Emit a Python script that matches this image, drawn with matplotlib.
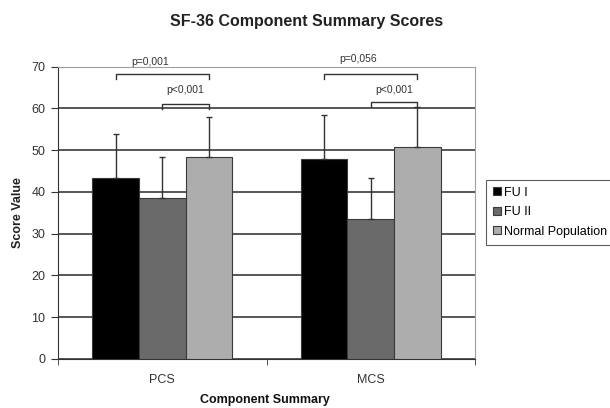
import numpy as np
import matplotlib.pyplot as plt

plt.rcParams['font.family'] = ['Liberation Sans', 'DejaVu Sans']

categorias = ['PCS', 'MCS']
grupos = ['FU I', 'FU II', 'Normal Population']
medias = {
    'FU I': [43.3, 47.8],
    'FU II': [38.5, 33.5],
    'Normal Population': [48.4, 50.8],
}
desvios = {
    'FU I': [10.5, 10.7],
    'FU II': [9.9, 9.8],
    'Normal Population': [9.6, 9.5],
}
cores = ['#000000', '#6a6a6a', '#adadad']

# comparacoes: (categoria, grupo a, grupo b, altura do colchete, altura do texto, texto)
comparacoes = [
    (0, 0, 2, 68.2, 71.1, 'p=0,001'),
    (0, 1, 2, 61.0, 64.4, 'p<0,001'),
    (1, 0, 2, 68.2, 71.9, 'p=0,056'),
    (1, 1, 2, 61.4, 64.4, 'p<0,001'),
]

fig = plt.figure(figsize=(6.1, 4.08), dpi=100)
ax = fig.add_axes([0.0951, 0.1201, 0.6836, 0.7169])

x = np.arange(len(categorias))
largura = 0.2233
for i, g in enumerate(grupos):
    pos = x + (i - 1) * largura
    ax.bar(pos, medias[g], largura, color=cores[i], edgecolor='#3a3a3a',
           linewidth=0.8, label=g, zorder=3)
    ax.errorbar(pos, medias[g], yerr=[np.zeros(2), desvios[g]], fmt='none',
                ecolor='#333333', elinewidth=1, capsize=2.5, capthick=1, zorder=4)

ax.set_ylim(0, 70)
ax.set_xlim(-0.5, 1.5)
ax.set_yticks(range(0, 71, 10))
ax.yaxis.grid(True, color='#2a2a2a', linewidth=1.1, zorder=0)
ax.set_axisbelow(True)

ax.set_xticks(x)
ax.set_xticklabels(categorias, fontsize=9, color='#333333')
ax.set_xticks([-0.5, 0.5, 1.5], minor=True)
ax.tick_params(axis='x', which='major', length=0, pad=11)
ax.tick_params(axis='x', which='minor', length=4, color='#333333', direction='out')
ax.tick_params(axis='y', length=5, color='#333333', labelsize=9, labelcolor='#333333', pad=4)

for lado in ['top', 'right']:
    ax.spines[lado].set_color('#a0a0a0')
for lado in ['left', 'bottom']:
    ax.spines[lado].set_color('#333333')

for cat, a, b, h, ht, texto in comparacoes:
    xa = cat + (a - 1) * largura
    xb = cat + (b - 1) * largura
    ax.plot([xa, xa, xb, xb], [h - 1.1, h, h, h - 1.1], color='#333333',
            linewidth=1, clip_on=False, zorder=5)
    ax.text((xa + xb) / 2 - 0.06 * (a == 0), ht, texto, ha='center', va='center',
            fontsize=7.5, color='#333333', clip_on=False)

fig.text(0.503, 0.947, 'SF-36 Component Summary Scores', ha='center', va='center',
         fontsize=11.5, fontweight='bold', color='#222222')
fig.text(0.435, 0.019, 'Component Summary', ha='center', va='center',
         fontsize=9, fontweight='bold', color='#111111')
fig.text(0.03, 0.478, 'Score Value', ha='center', va='center', rotation=90,
         fontsize=9, fontweight='bold', color='#222222')

leg = fig.legend(loc='upper left', bbox_to_anchor=(0.797, 0.559), fontsize=9,
                 frameon=True, fancybox=False, edgecolor='#333333',
                 handlelength=0.6, handleheight=0.6, handletextpad=0.3,
                 labelspacing=0.6, borderpad=0.55, borderaxespad=0)
leg.get_frame().set_linewidth(0.8)

fig.savefig('out.png', dpi=100)
